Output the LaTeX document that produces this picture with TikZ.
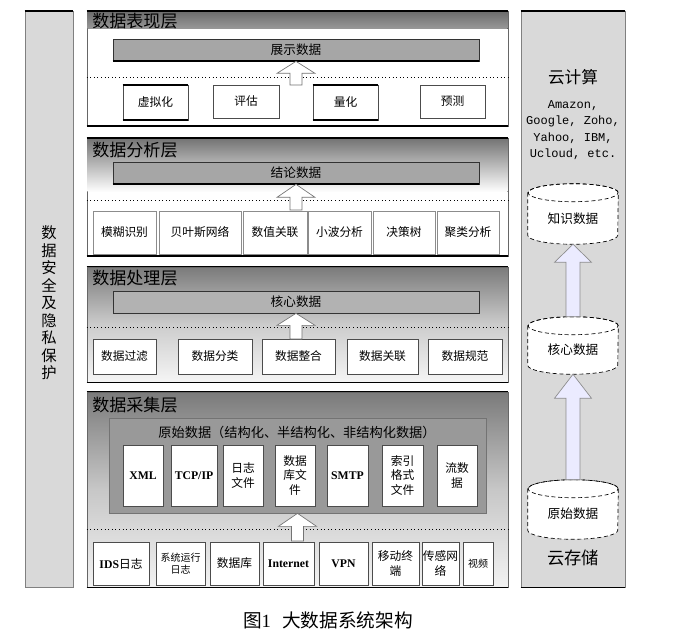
\documentclass[tikz,border=0pt]{standalone}
\usepackage{fontspec}
\setmainfont{Noto Sans CJK SC}
\newfontfamily\tnr{Liberation Serif}
\newfontfamily\mono{Liberation Mono}
\usetikzlibrary{calc}
\pgfdeclarelayer{bg}\pgfdeclarelayer{mid}\pgfsetlayers{bg,mid,main}
\tikzset{
 lay/.style={draw=black!60, line width=0.5pt, inner sep=0, fill=white},
 col/.style={draw=black!50, fill=black!15, line width=0.5pt, inner sep=0},
 wbox/.style={draw=black!70, fill=white, line width=0.5pt, inner sep=0, align=center, font=\fontsize{8.8}{11.2}\selectfont},
 gbox/.style={draw=black!80, fill=black!35, line width=0.5pt, inner sep=0, align=center, font=\fontsize{9.5}{11}\selectfont},
 hdr/.style={anchor=west, inner sep=0, font=\fontsize{12.8}{14}\selectfont},
 sepline/.style={dotted, line width=0.7pt},
 harrow/.style={draw=black!55, fill=white, line width=0.5pt},
 barrow/.style={draw=black!45, fill=blue!8!white, line width=0.5pt},
 cylbody/.style={draw=black, fill=white, densely dashed, line width=0.5pt},
 cyltxt/.style={inner sep=0, align=center, font=\fontsize{9.5}{11}\selectfont},
 thickedge/.style={line width=1.3pt, black},
}
\newcommand\bx[7][]{\node[#1, minimum width={(#5-#3)*0.75pt}, minimum height={(#6-#4)*0.75pt}] (#2) at ({(#3+#5)/2},{(#4+#6)/2}) {#7};}
\newcommand\blockup[6]{\path[#1] let \p1=(#2), \p2=(#3) in
 (\x2-#4*0.75pt,\y1) -- (\x2-#4*0.75pt,\y2-#6*0.75pt) -- (\x2-#5*0.75pt,\y2-#6*0.75pt) -- (\x2,\y2) -- (\x2+#5*0.75pt,\y2-#6*0.75pt) -- (\x2+#4*0.75pt,\y2-#6*0.75pt) -- (\x2+#4*0.75pt,\y1) -- cycle;}
\newcommand\cyl[1]{%
 \path[cylbody] ($(#1.north west)+(0,9)$) -- ($(#1.south west)+(0,-9)$) arc[start angle=180,end angle=360,x radius=33.75pt,y radius=6.75pt] -- ($(#1.north east)+(0,9)$) arc[start angle=0,end angle=180,x radius=33.75pt,y radius=6.75pt] -- cycle;
 \draw[cylbody, fill=none] ($(#1.north)+(0,9)$) ellipse[x radius=33.75pt,y radius=6.75pt];}
\newcommand\tb[1]{{\tnr\bfseries #1}}
\begin{document}
\begin{tikzpicture}[x=0.75pt,y=-0.75pt]
\useasboundingbox (0,0) rectangle (680,634);
% ---------- backgrounds ----------
\begin{pgfonlayer}{bg}
\fill[white] (0,0) rectangle (680,634);
\bx[col]{sec}{25}{11}{73}{587}{}
\draw[thickedge] (sec.north west) -- (sec.north east);
\bx[col]{cloud}{521}{11}{625}{587}{}
\draw[thickedge] (cloud.north west) -- (cloud.north east);
\draw[line width=0.8pt] (cloud.south west) -- (cloud.south east);
% layer 1
\bx[lay]{L1}{87}{11}{508}{126}{}
\fill[top color=black!58, bottom color=black!40] (87.5,11) rectangle (507.5,29);
\draw[thickedge] (L1.north west) -- (L1.north east) (L1.south west) -- (L1.south east);
% layer 2
\bx[lay]{L2}{87}{138}{508}{256}{}
\fill[top color=black!55, bottom color=white] (87.5,138) rectangle (507.5,192);
\draw[thickedge] (L2.north west) -- (L2.north east) (L2.south west) -- (L2.south east);
% layer 3
\bx[lay, top color=black!52, bottom color=black!4, middle color=black!20]{L3}{87}{267}{508}{382}{}
\draw[line width=0.9pt] (L3.north west) -- (L3.north east) (L3.south west) -- (L3.south east);
% layer 4
\bx[lay, top color=black!52, bottom color=black!5, middle color=black!22]{L4}{87}{392}{508}{587}{}
\draw[line width=0.9pt] (L4.north west) -- (L4.north east) (L4.south west) -- (L4.south east);
\end{pgfonlayer}
% ---------- left column ----------
\node[inner sep=0, align=center, font=\fontsize{11.5}{13.1}\selectfont] (sect) at (49,303) {数\\据\\安\\全\\及\\隐\\私\\保\\护};
% ---------- layer 1 ----------
\node[hdr] (h1) at (92,21) {数据表现层};
\bx[gbox]{show}{113}{39}{479}{61}{展示数据}
\draw[thickedge] (show.south west) -- (show.south east);
\draw[sepline] (L1.west |- 0,77) -- (L1.east |- 0,77);
\bx[wbox]{p1}{123}{85}{188}{120}{虚拟化}
\bx[wbox]{p2}{213}{85}{279}{118}{评估}
\bx[wbox]{p3}{313}{85}{378}{120}{量化}
\bx[wbox]{p4}{420}{85}{485}{118}{预测}
\draw[thickedge] (p1.north west) -- (p1.north east) (p1.south west) -- (p1.south east);
\draw[thickedge] (p3.north west) -- (p3.north east) (p3.south west) -- (p3.south east);
\coordinate (a1b) at (296,85);
\blockup{harrow}{a1b}{show.south}{6}{19}{12}
% ---------- layer 2 ----------
\node[hdr] (h2) at (92,150) {数据分析层};
\bx[gbox]{concl}{113}{162}{479}{184}{结论数据}
\draw[thickedge] (concl.south west) -- (concl.south east);
\draw[sepline] (L2.west |- 0,200) -- (L2.east |- 0,200);
\bx[wbox, draw=black!45]{q1}{93}{211}{156}{254}{模糊识别}
\bx[wbox, draw=black!45]{q2}{159}{211}{241}{254}{贝叶斯网络}
\bx[wbox, draw=black!45]{q3}{243}{211}{307}{254}{数值关联}
\bx[wbox, draw=black!45]{q4}{308}{211}{371}{254}{小波分析}
\bx[wbox, draw=black!45]{q5}{373}{211}{435}{254}{决策树}
\bx[wbox, draw=black!45]{q6}{437}{211}{499}{254}{聚类分析}
\coordinate (a2b) at (296,210);
\blockup{harrow}{a2b}{concl.south}{6}{19}{13}
% ---------- layer 3 ----------
\node[hdr] (h3) at (92,278) {数据处理层};
\bx[gbox, fill=black!30]{core}{113}{291}{479}{313}{核心数据}
\draw[sepline] (L3.west |- 0,327) -- (L3.east |- 0,327);
\bx[wbox]{r1}{93}{339}{156}{374}{数据过滤}
\bx[wbox]{r2}{178}{339}{252}{374}{数据分类}
\bx[wbox]{r3}{262}{339}{335}{374}{数据整合}
\bx[wbox]{r4}{347}{339}{418}{374}{数据关联}
\bx[wbox]{r5}{428}{339}{502}{374}{数据规范}
\coordinate (a3b) at (296,339);
\blockup{harrow}{a3b}{core.south}{6}{19}{12}
% ---------- layer 4 ----------
\node[hdr] (h4) at (92,405) {数据采集层};
\bx[gbox, fill=black!40, draw=black!55]{raw}{109}{418}{486}{513}{}
\node[inner sep=0, font=\fontsize{9.9}{11}\selectfont] (rawt) at (297,432) {原始数据（结构化、半结构化、非结构化数据）};
\bx[wbox]{s1}{123}{445}{163}{506}{\tb{XML}}
\bx[wbox]{s2}{171}{445}{217}{506}{\tb{TCP/IP}}
\bx[wbox]{s3}{223}{445}{263}{506}{日志\\文件}
\bx[wbox]{s4}{275}{445}{315}{506}{数据\\库文\\件}
\bx[wbox]{s5}{327}{445}{368}{506}{\tb{SMTP}}
\bx[wbox]{s6}{382}{445}{423}{506}{索引\\格式\\文件}
\bx[wbox]{s7}{437}{445}{477}{506}{流数\\据}
\draw[sepline] (L4.west |- 0,529) -- (L4.east |- 0,529);
\bx[wbox]{t1}{93}{542}{149}{585}{\tb{IDS}日志}
\bx[wbox, font=\fontsize{7.5}{9.5}\selectfont]{t2}{156}{542}{205}{585}{系统运行\\日志}
\bx[wbox]{t3}{210}{542}{259}{585}{数据库}
\bx[wbox]{t4}{263}{542}{314}{585}{\tb{Internet}}
\bx[wbox]{t5}{319}{542}{368}{585}{\tb{VPN}}
\bx[wbox]{t6}{372}{542}{419}{585}{移动终\\端}
\bx[wbox]{t7}{422}{542}{459}{585}{传感网\\络}
\bx[wbox, font=\fontsize{7.5}{9.5}\selectfont]{t8}{463}{542}{493}{585}{视频}
\coordinate (a4b) at (297,541);
\blockup{harrow}{a4b}{raw.south}{6}{19}{13}
% ---------- right column ----------
\node[inner sep=0, font=\fontsize{12.5}{14}\selectfont] (cc) at (573,77) {云计算};
\node[inner sep=0, align=center, font=\mono\fontsize{9}{12.4}\selectfont] (vend) at (573,130) {Amazon,\\Google, Zoho,\\Yahoo, IBM,\\Ucloud, etc.};
\bx[cyltxt]{kd}{528}{184}{618}{244}{\\[4pt]知识数据}
\bx[cyltxt]{hx}{528}{317}{618}{374}{\\[4pt]核心数据}
\bx[cyltxt]{ys}{528}{480}{618}{539}{\\[4pt]原始数据}
\begin{pgfonlayer}{mid}
\cyl{kd}\cyl{hx}\cyl{ys}
\end{pgfonlayer}
\blockup{barrow}{hx.north}{kd.south}{7}{18.5}{18}
\blockup{barrow}{ys.north}{hx.south}{7}{18.5}{24}
\node[inner sep=0, font=\fontsize{13}{14}\selectfont] (cs) at (573,558) {云存储};
% ---------- caption ----------
\node[inner sep=0, font=\fontsize{14}{16}\selectfont] (cap) at (328,620) {图{\tnr 1}\hspace{0.6em}大数据系统架构};
\end{tikzpicture}
\end{document}
